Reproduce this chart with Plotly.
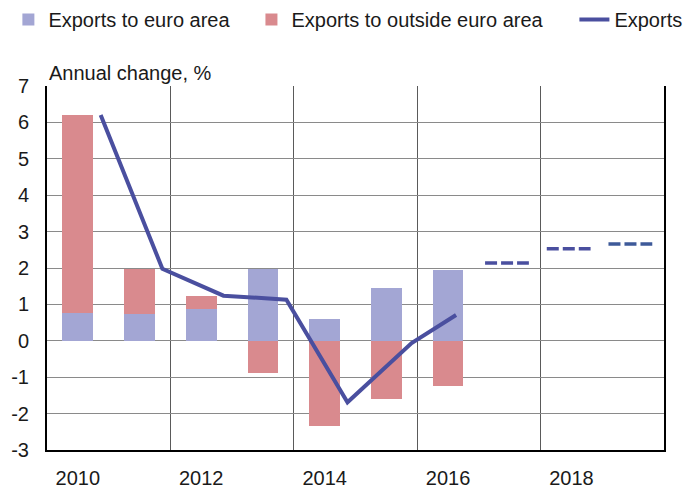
import plotly.graph_objects as go

# ---- data ----
years = [2010, 2011, 2012, 2013, 2014, 2015, 2016]
euro_area = [0.77, 0.75, 0.87, 1.97, 0.60, 1.45, 1.95]
outside_euro_area = [5.42, 1.23, 0.35, -0.88, -2.33, -1.61, -1.25]

exports_x = [2010.37, 2011.37, 2012.36, 2013.38, 2014.37, 2015.41, 2016.13]
exports = [6.20, 1.98, 1.24, 1.13, -1.69, -0.06, 0.71]

forecast_years = [2017, 2018, 2019]
forecast = [2.14, 2.53, 2.66]

tick_years = [2010, 2012, 2014, 2016, 2018]
tick_labels = ["2010", "2012", "2014", "2016", "2018"]
y_ticks = [-3, -2, -1, 0, 1, 2, 3, 4, 5, 6, 7]
y_labels = ["-3", "-2", "-1", "0", "1", "2", "3", "4", "5", "6", "7"]
bin_edges = [2011.5, 2013.5, 2015.5, 2017.5]

# ---- styles ----
C_EURO = "#a3a6d4"
C_OUT = "#d98a8e"
C_LINE = "#4a4f9f"
FC_COLORS = ["#4a4f9f", "#4a4f9f", "#3e5a99"]
FONT = "Liberation Sans, Arial, sans-serif"
TXT = "#1a1a1a"

fig = go.Figure()
fig.add_trace(go.Bar(x=years, y=euro_area, name="Exports to euro area", legend="legend",
                     marker=dict(color=C_EURO, line=dict(width=0)), width=0.5))
fig.add_trace(go.Bar(x=years, y=outside_euro_area, name="Exports to outside euro area",
                     legend="legend2",
                     marker=dict(color=C_OUT, line=dict(width=0)), width=0.5))
fig.add_trace(go.Scatter(x=exports_x, y=exports, name="Exports", mode="lines", legend="legend3",
                         line=dict(color=C_LINE, width=4)))
for yr, v, c in zip(forecast_years, forecast, FC_COLORS):
    fig.add_trace(go.Scatter(x=[yr - 0.4, yr + 0.31], y=[v, v], mode="lines",
                             showlegend=False, hoverinfo="skip",
                             line=dict(color=c, width=3.5, dash="12px,4px")))

def leg(xpos):
    return dict(orientation="h", xref="container", yref="container",
                x=xpos, y=1.0, xanchor="left", yanchor="top",
                font=dict(size=20, color=TXT), itemwidth=30,
                bgcolor="rgba(0,0,0,0)")

fig.update_layout(
    width=687, height=488,
    margin=dict(l=47, r=23, t=86, b=38, autoexpand=False),
    paper_bgcolor="white", plot_bgcolor="white",
    barmode="relative", bargap=0,
    font=dict(family=FONT, size=20, color=TXT),
    showlegend=True,
    legend=leg(0.0122), legend2=leg(0.3660), legend3=leg(0.8361),
    annotations=[dict(text="Annual change, %", xref="paper", yref="paper",
                      x=0, y=1, xanchor="left", yanchor="bottom", xshift=0, yshift=0,
                      showarrow=False, font=dict(size=20, color=TXT))],
)
fig.update_xaxes(range=[2009.5, 2019.5], tickmode="array", tickvals=tick_years,
                 ticktext=tick_labels, showgrid=False, zeroline=False,
                 showline=True, linecolor="#000000", linewidth=2, mirror=False,
                 ticks="", ticklabelstandoff=9, automargin=False,
                 minor=dict(tickmode="array", tickvals=bin_edges,
                            showgrid=True, gridcolor="#5a5a5a", gridwidth=1, ticks=""))
fig.update_yaxes(range=[-3, 7], tickmode="array", tickvals=y_ticks, ticktext=y_labels,
                 showgrid=True, gridcolor="#8a8a8a", gridwidth=1, zeroline=False,
                 showline=True, linecolor="#000000", linewidth=2, mirror=True,
                 ticks="", ticklabelstandoff=12, automargin=False)

fig.write_html("out.html", config={"displayModeBar": False},
               post_script="document.body.style.margin='0';document.body.style.overflow='hidden';")
